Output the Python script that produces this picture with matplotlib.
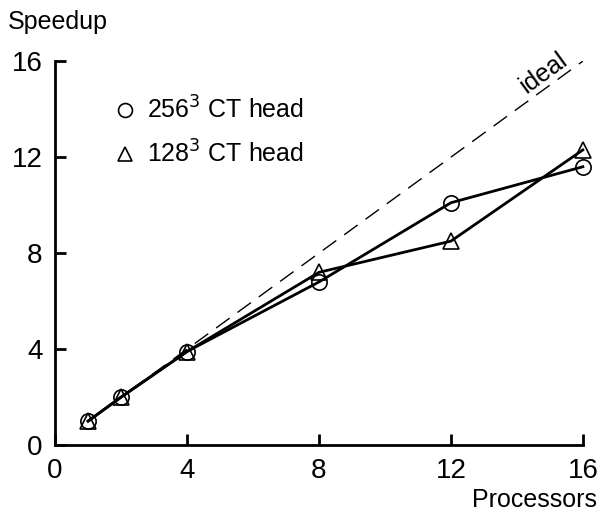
import matplotlib
matplotlib.use("Agg")
import matplotlib.pyplot as plt

plt.rcParams['font.family'] = ['Liberation Sans', 'DejaVu Sans']

procs = [1, 2, 4, 8, 12, 16]
speedup_256 = [1.0, 2.0, 3.9, 6.8, 10.1, 11.6]
speedup_128 = [1.0, 2.0, 3.9, 7.2, 8.5, 12.3]
ideal_x = [1, 16]
ideal_y = [1, 16]
ticks = [0, 4, 8, 12, 16]

fig = plt.figure(figsize=(5.99, 5.14), dpi=100)
ax = fig.add_axes([0.092, 0.134, 0.881, 0.747])

ax.plot(ideal_x, ideal_y, color='black', lw=1, dashes=(12, 7))
ax.plot(procs, speedup_256, color='black', lw=2, marker='o', ms=11,
        mfc='none', mec='black', mew=1.2, clip_on=False)
ax.plot(procs, speedup_128, color='black', lw=2, marker='^', ms=11,
        mfc='none', mec='black', mew=1.2, clip_on=False)

# legend as plain text
ax.plot([2.12], [13.95], marker='o', ms=10, mfc='none', mec='black', mew=1.2, ls='none')
ax.plot([2.12], [12.15], marker='^', ms=10, mfc='none', mec='black', mew=1.2, ls='none')
ax.text(2.8, 13.95, r'256$^3$ CT head', fontsize=18, va='center')
ax.text(2.8, 12.15, r'128$^3$ CT head', fontsize=18, va='center')

ax.text(14.8, 15.5, 'ideal', fontsize=18, rotation=36, ha='center', va='center')

ax.set_xlim(0, 16)
ax.set_ylim(0, 16)
ax.set_xticks(ticks)
ax.set_yticks(ticks)
ax.spines['top'].set_visible(False)
ax.spines['right'].set_visible(False)
ax.spines['left'].set_linewidth(2)
ax.spines['bottom'].set_linewidth(2)
ax.tick_params(direction='in', length=8, width=2, labelsize=20, pad=9)

fig.text(0.013, 0.957, 'Speedup', fontsize=18, va='center')
fig.text(0.997, 0.028, 'Processors', fontsize=18, ha='right', va='center')

fig.savefig('out.png', dpi=100)
